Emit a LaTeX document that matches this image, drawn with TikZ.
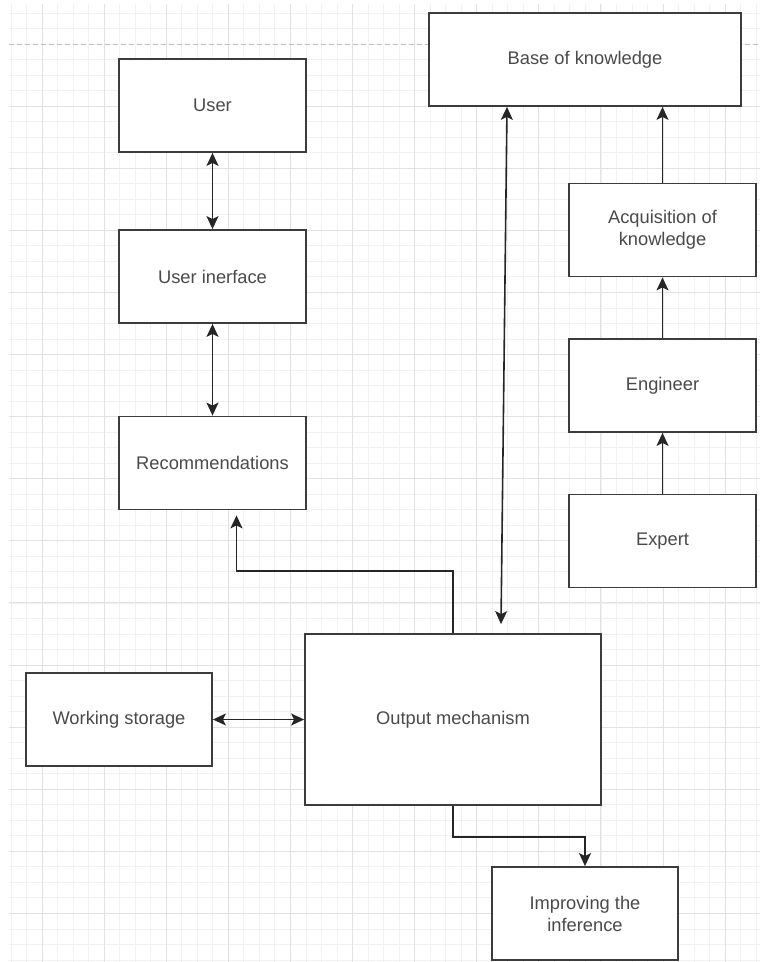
\documentclass[tikz,border=0pt]{standalone}
\usepackage{fontspec}
\setmainfont{Liberation Sans}
\usetikzlibrary{arrows.meta}

\definecolor{gridminor}{HTML}{F1F1F1}
\definecolor{gridmajor}{HTML}{E2E2E2}
\definecolor{boxline}{HTML}{3C3C3C}
\definecolor{labelgray}{HTML}{4A4A4A}

\tikzset{
  block/.style={draw=boxline, line width=1.8pt, fill=white,
    minimum width=187pt, minimum height=93pt, align=center,
    text=labelgray, font=\fontsize{18.3}{22}\selectfont},
  link/.style={draw=black!85, line width=1.6pt,
    arrows={[length=13pt,width=12pt]}},
  tip/.tip={Stealth[inset=3pt]},
}

\begin{document}
\begin{tikzpicture}[x=1pt, y=-1pt, >=tip]
\useasboundingbox (0,0) rectangle (760,962);

% grid paper
\foreach \i in {0,...,48}
  \draw[gridminor, line width=0.8pt] ({10.95+15.525*\i},4) -- ({10.95+15.525*\i},962);
\foreach \j in {0,...,61}
  \draw[gridminor, line width=0.8pt] (9,{12.95+15.525*\j}) -- (760,{12.95+15.525*\j});
\foreach \i in {0,...,11}
  \draw[gridmajor, line width=1pt] ({42+62.1*\i},4) -- ({42+62.1*\i},962);
\foreach \j in {1,...,14}
  \draw[gridmajor, line width=1pt] (9,{44+62.1*\j}) -- (760,{44+62.1*\j});
\draw[black!25, line width=1pt, dash pattern=on 5pt off 3pt] (9,44) -- (760,44);

\node[block] (user) at (212.5,105.5) {User};
\node[block] (ui) at (212.5,276.5) {User inerface};
\node[block] (rec) at (212.5,463) {Recommendations};
\node[block, minimum width=312pt] (base) at (585,59.5) {Base of knowledge};
\node[block] (acq) at (662.5,230) {Acquisition of\\knowledge};
\node[block] (engineer) at (662.5,385.5) {Engineer};
\node[block] (expert) at (662.5,541) {Expert};
\node[block, minimum width=186pt] (storage) at (119,719.5) {Working storage};
\node[block, minimum width=296pt, minimum height=171pt] (output) at (453,719.5) {Output mechanism};
\node[block, minimum width=186pt] (improve) at (585,913.5) {Improving the\\inference};

\draw[link, <->] (user) -- (ui);
\draw[link, <->] (ui) -- (rec);
\draw[link, ->] (expert) -- (engineer);
\draw[link, ->] (engineer) -- (acq);
\draw[link, ->] (acq.north) -- (acq.north |- base.south);
\draw[link, <->] ([xshift=-78pt]base.south) -- ([xshift=48pt,yshift=9pt]output.north);
\draw[link, ->] (output.north) -- ++(0,-62) -| ([xshift=24pt,yshift=-5pt]rec.south);
\draw[link, <->] (storage) -- (output);
\draw[link, ->] (output.south) -- ++(0,31) -| (improve.north);

\end{tikzpicture}
\end{document}
